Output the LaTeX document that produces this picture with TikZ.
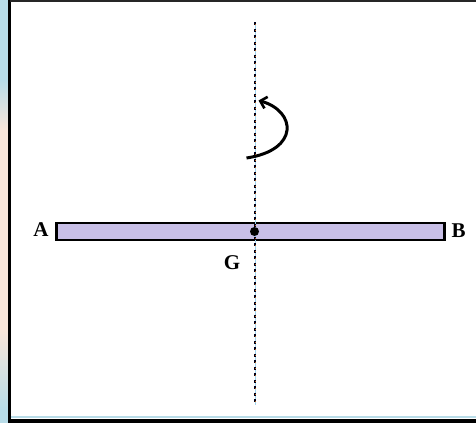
\documentclass[tikz,border=0pt]{standalone}
\usepackage{fontspec}
\setmainfont{Liberation Serif}
\usetikzlibrary{arrows.meta}
\definecolor{barfill}{HTML}{C8BFE7}
\definecolor{stripA}{HTML}{B8DCE8}
\definecolor{stripB}{HTML}{F8E6DA}
\definecolor{dashor}{HTML}{C06010}
\definecolor{dashbl}{HTML}{9FD4F0}
\tikzset{
  lbl/.style={font=\fontsize{21}{22}\selectfont\bfseries, inner sep=0pt},
  axisline/.style={draw=black!90!blue, line width=2.6pt, dash pattern=on 3.2pt off 3.3pt},
}
\begin{document}
\begin{tikzpicture}[x=1pt,y=-1pt]
\useasboundingbox (0,0) rectangle (476,423);
% left strip gradient
\fill[stripA] (0,0) rectangle (9,80);
\shade[top color=stripA, bottom color=stripB] (0,80) rectangle (9,130);
\fill[stripB] (0,130) rectangle (9,330);
\shade[top color=stripB, bottom color=stripA] (0,330) rectangle (9,410);
\fill[stripA] (0,410) rectangle (9,423);
\fill[stripA] (9,416) rectangle (476,418);
% frame
\draw[line width=3pt] (9.5,-5) -- (9.5,420);
\draw[line width=2pt, black!85] (9.5,0.5) -- (480,0.5);
\draw[line width=4pt] (8,420.5) -- (480,420.5);
% rod
\node[draw=black, line width=2.8pt, fill=barfill, minimum width=388pt, minimum height=17pt, inner sep=0pt] (rod) at (250.5,231.5) {};
\node[lbl] (A) at (41,229.5) {A};
\node[lbl] (B) at (458.5,231) {B};
\node[lbl] (G) at (232,262.5) {G};
% axis
\coordinate (top) at (255,22);
\coordinate (bot) at (255,405);
\draw[dashbl, line width=0.8pt] (top) -- (bot);
\draw[axisline] (top) -- (bot);
\draw[dashor, line width=0.8pt, dash pattern=on 1.2pt off 5.3pt, dash phase=-1.6pt] (top) -- (bot);
% centre of gravity
\fill (254.5,231.5) circle (4.5pt);
% rotation arrow
\coordinate (s) at (246.5,158);
\coordinate (e) at (258.5,100.5);
\draw[line width=3pt, -{Straight Barb[length=6pt, width=12pt, line width=2.6pt]}] (s) .. controls (300,150) and (296,111) .. (e);
\end{tikzpicture}
\end{document}
